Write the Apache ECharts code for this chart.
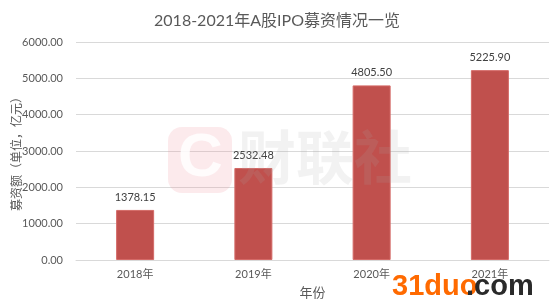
<!DOCTYPE html>
<html><head><meta charset="utf-8">
<script src="https://cdn.jsdelivr.net/npm/echarts@6/dist/echarts.min.js"></script>
<style>html,body{margin:0;padding:0;background:#fff}#c{width:554px;height:308px}</style>
</head><body><div id="c"></div>
<script>
const categories = ['2018年','2019年','2020年','2021年'];
const values = [1378.15, 2532.48, 4805.50, 5225.90];
const titleText = '2018-2021年A股IPO募资情况一览';
const yName = '募资额（单位，亿元）';
const xName = '年份';
const FONT = 'Lato, "Noto Sans CJK SC", sans-serif';
const chart = echarts.init(document.getElementById('c'));
chart.setOption({
  animation: false,
  textStyle: {fontFamily: FONT},
  title: {text: titleText, left: 'center', top: 8,
    textStyle: {fontFamily: FONT, fontSize: 16, fontWeight: 'normal', color: '#595959'}},
  grid: {left: 76, right: 5, top: 42, bottom: 48, containLabel: false, outerBoundsMode: 'none'},
  xAxis: {type: 'category', data: categories, name: xName, nameLocation: 'middle', nameGap: 26,
    nameMoveOverlap: false,
    nameTextStyle: {fontSize: 13, color: '#595959'},
    axisLine: {lineStyle: {color: '#d9d9d9'}}, axisTick: {show: false},
    axisLabel: {fontSize: 11, color: '#595959', margin: 9}},
  yAxis: {type: 'value', min: 0, max: 6000, interval: 1000, name: yName, nameLocation: 'middle',
    nameMoveOverlap: false,
    nameRotate: 90, nameGap: 53, nameTextStyle: {fontSize: 12, color: '#595959'},
    axisLine: {show: false}, axisTick: {show: false},
    splitLine: {lineStyle: {color: '#d9d9d9'}},
    axisLabel: {fontSize: 11, color: '#595959', margin: 13, formatter: v => v.toFixed(2)}},
  series: [{type: 'bar', data: values, barWidth: 38,
    itemStyle: {color: '#c0504d', borderColor: '#d46a67', borderWidth: 1},
    label: {show: true, position: 'top', distance: 7, fontSize: 11, color: '#404040',
      formatter: p => p.value.toFixed(2)}}],
  graphic: [
    {type: 'rect', left: 168, top: 127, shape: {width: 64, height: 66, r: 14},
      style: {fill: 'rgba(240,150,160,0.2)'}, z: 100},
    {type: 'text', left: 178, top: 128, style: {text: 'C', font: 'bold 62px "Liberation Sans"', fill: 'rgba(255,255,255,0.85)'}, z: 101},
    {type: 'text', left: 238, top: 128, style: {text: '财联社', font: 'bold 58px "Noto Sans CJK SC"', fill: 'rgba(170,170,170,0.15)'}, z: 100},
    {type: 'text', left: 392, top: 272, style: {text: '31duo', font: 'bold 29px "Liberation Sans"', fill: '#ff6a00'}, z: 100},
    {type: 'text', left: 466, top: 272, style: {text: '.com', font: 'bold 29px "Liberation Sans"', fill: '#2a2a2a'}, z: 100}
  ]
});
</script></body></html>
